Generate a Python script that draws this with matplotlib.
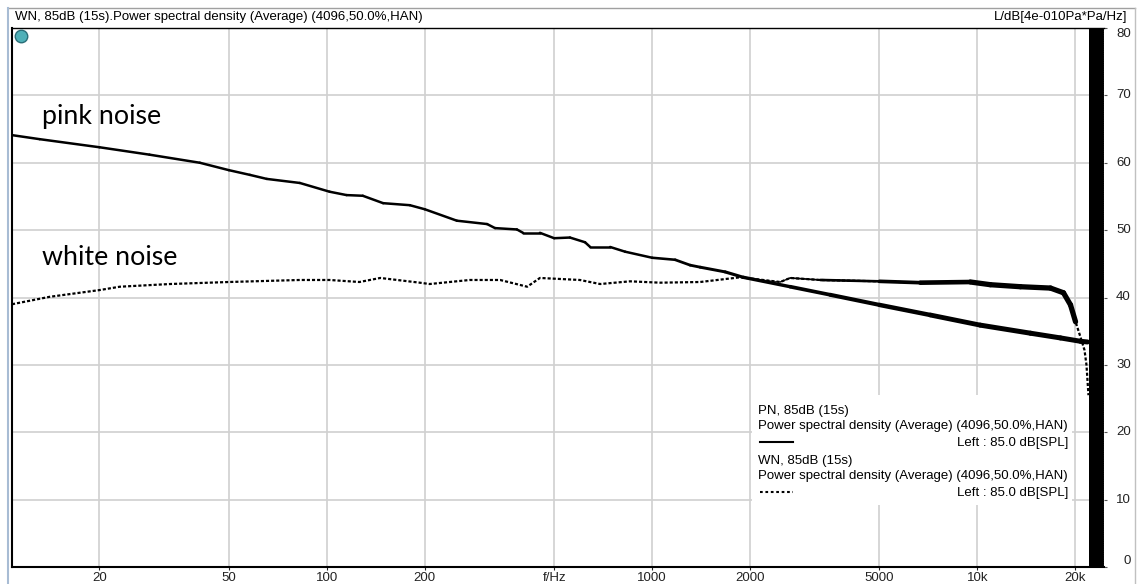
import numpy as np
import matplotlib.pyplot as plt
from matplotlib.collections import LineCollection
from matplotlib.patches import Rectangle

W, H = 1138, 584

# pink noise PSD
pn_freq = [10.77, 13.1, 20, 28.5, 40.7, 50, 58, 65.4, 82.6, 102, 115, 129, 149, 180,
           200, 251, 311, 329, 384, 401, 452, 500, 559, 622, 645, 743, 826, 1000,
           1177, 1309, 1405, 1677, 1906, 2658, 3529, 5000, 7167, 10200, 14560,
           18000, 20750, 21800]
pn_db = [64.1, 63.5, 62.3, 61.2, 60.0, 58.9, 58.2, 57.6, 57.0, 55.7, 55.2, 55.1, 54.0,
         53.7, 53.1, 51.4, 50.9, 50.3, 50.1, 49.6, 49.6, 48.8, 48.9, 48.2, 47.5, 47.5,
         46.8, 45.9, 45.6, 44.8, 44.5, 43.8, 43.0, 41.6, 40.4, 38.9, 37.4, 35.9, 34.7,
         34.0, 33.5, 33.4]

# white noise PSD
wn_freq = [10.77, 14.05, 20, 23.1, 32.9, 50, 82.6, 102, 126, 146, 193, 207, 275, 341,
           413, 452, 600, 692, 855, 1058, 1405, 1866, 2476, 2658, 3288, 5000, 6677,
           9517, 10960, 13560, 16770, 18390, 19330, 20030, 20750, 21340, 21640, 21950]
wn_db = [39.0, 40.1, 41.1, 41.6, 42.0, 42.3, 42.6, 42.6, 42.3, 42.9, 42.2, 42.0, 42.6,
         42.6, 41.6, 42.9, 42.6, 42.0, 42.4, 42.2, 42.3, 43.0, 42.3, 42.9, 42.6, 42.4,
         42.2, 42.3, 41.9, 41.6, 41.4, 40.7, 38.9, 36.4, 34.1, 32.2, 30.0, 25.5]

xtick_vals = [20, 50, 100, 200, 500, 1000, 2000, 5000, 10000, 20000]
xtick_labels = ["20", "50", "100", "200", "f/Hz", "1000", "2000", "5000", "10k", "20k"]
ytick_vals = [0, 10, 20, 30, 40, 50, 60, 70, 80]

title_left = "WN, 85dB (15s).Power spectral density (Average) (4096,50.0%,HAN)"
title_right = "L/dB[4e-010Pa*Pa/Hz]"
legend_entries = [
    ("PN, 85dB (15s)", "Power spectral density (Average) (4096,50.0%,HAN)", "Left : 85.0 dB[SPL]"),
    ("WN, 85dB (15s)", "Power spectral density (Average) (4096,50.0%,HAN)", "Left : 85.0 dB[SPL]"),
]
nyquist = 22050
f_min, f_max = 10.77, 24500

plt.rcParams['font.family'] = ['Liberation Sans', 'DejaVu Sans']
fs = 9.5


def fx(x):
    return x / W


def fy(y):
    return 1 - y / H


fig = plt.figure(figsize=(W / 100, H / 100), dpi=100)
ax = fig.add_axes([fx(12), fy(567), fx(1104) - fx(12), fy(28) - fy(567)])

ax.set_xscale("log")
ax.set_xlim(f_min, f_max)
ax.set_ylim(0, 80)

ax.grid(True, which="major", color="#d0d0d0", lw=1.2)
ax.set_axisbelow(True)
ax.minorticks_off()
ax.set_xticks(xtick_vals, xtick_labels)
ax.set_yticks(ytick_vals)
ax.tick_params(axis="x", length=2, pad=1.5, labelsize=fs, colors="#222222")
ax.yaxis.tick_right()
ax.tick_params(axis="y", length=2, labelright=False, colors="#555555")

for y in ytick_vals:
    va = "center"
    if y == 0:
        va = "bottom"
    if y == 80:
        va = "top"
    ax.text(1.0245, y, str(y), transform=ax.get_yaxis_transform(),
            ha="right", va=va, fontsize=fs, color="#222222")

ax.spines["right"].set_visible(False)
ax.spines["left"].set_linewidth(1.5)
ax.spines["bottom"].set_linewidth(1.5)
ax.spines["top"].set_linewidth(1.0)

# region above nyquist
ax.axvspan(nyquist, f_max, color="black", zorder=3, lw=0)
ax.axvline(f_max * 0.997, color="white", lw=0.8, ls=(0, (1, 1)), zorder=4)

# legend box (covers the grid)
ax.add_patch(Rectangle((fx(752), fy(505)), fx(1072) - fx(752), fy(395) - fy(505),
                       transform=fig.transFigure, facecolor="white", edgecolor="none",
                       zorder=1))


# curves: thicker where the spectrum gets noisy
def widths(freq, lo, hi, stop=None):
    f = np.sqrt(np.array(freq[:-1]) * np.array(freq[1:]))
    t = np.clip((np.log10(f) - 3.0) / 1.0, 0, 1)
    w = lo + (hi - lo) * t
    if stop is not None:
        w[f > stop] = 0
    return np.clip(w, 0, None)


pts = np.column_stack([pn_freq, pn_db])
segs = np.stack([pts[:-1], pts[1:]], axis=1)
ax.add_collection(LineCollection(segs, linewidths=widths(pn_freq, 1.8, 3.6),
                                 colors="black", capstyle="round", joinstyle="round",
                                 zorder=2))

ax.plot(wn_freq, wn_db, color="black", lw=1.6, dashes=(1.4, 0.9), zorder=2)
pts = np.column_stack([wn_freq, wn_db])
segs = np.stack([pts[:-1], pts[1:]], axis=1)
ax.add_collection(LineCollection(segs, linewidths=widths(wn_freq, -1.0, 3.8, stop=19800),
                                 colors="black", capstyle="round", zorder=2))

# annotations
fig.text(fx(42), fy(124), "pink noise", fontsize=19.3, family="Lato", va="baseline")
fig.text(fx(42), fy(265), "white noise", fontsize=19.3, family="Lato", va="baseline")

# legend text
rows = [(411, 426, 443), (461, 476, 493)]
for (a, b, c), (l1, l2, l3) in zip(rows, legend_entries):
    fig.text(fx(758), fy(a), l1, fontsize=fs, va="center")
    fig.text(fx(758), fy(b), l2, fontsize=fs, va="center")
    fig.text(fx(1068), fy(c), l3, fontsize=fs, va="center", ha="right")
fig.add_artist(plt.Line2D([fx(760), fx(793)], [fy(442), fy(442)], color="black", lw=1.5))
fig.add_artist(plt.Line2D([fx(760), fx(793)], [fy(492), fy(492)], color="black", lw=1.5,
                          dashes=(1.3, 1.3)))

# header strip and frame
fig.text(fx(15), fy(17), title_left, fontsize=fs, va="center")
fig.text(fx(1127), fy(17), title_right, fontsize=fs, va="center", ha="right")
fig.add_artist(plt.Line2D([fx(8), fx(1135)], [fy(8), fy(8)], color="#a0a0a0", lw=1.0))
fig.add_artist(plt.Line2D([fx(8), fx(8)], [fy(8), fy(584)], color="#a8bcd4", lw=1.5))
fig.add_artist(plt.Line2D([fx(1135), fx(1135)], [fy(8), fy(584)], color="#c0c0c0", lw=1.0))
fig.add_artist(plt.Line2D([fx(21)], [fy(36)], marker="o", markersize=9,
                          markerfacecolor="#4fb0b8", markeredgecolor="#2a6e78",
                          markeredgewidth=1.0))

fig.savefig("out.png", dpi=100)
